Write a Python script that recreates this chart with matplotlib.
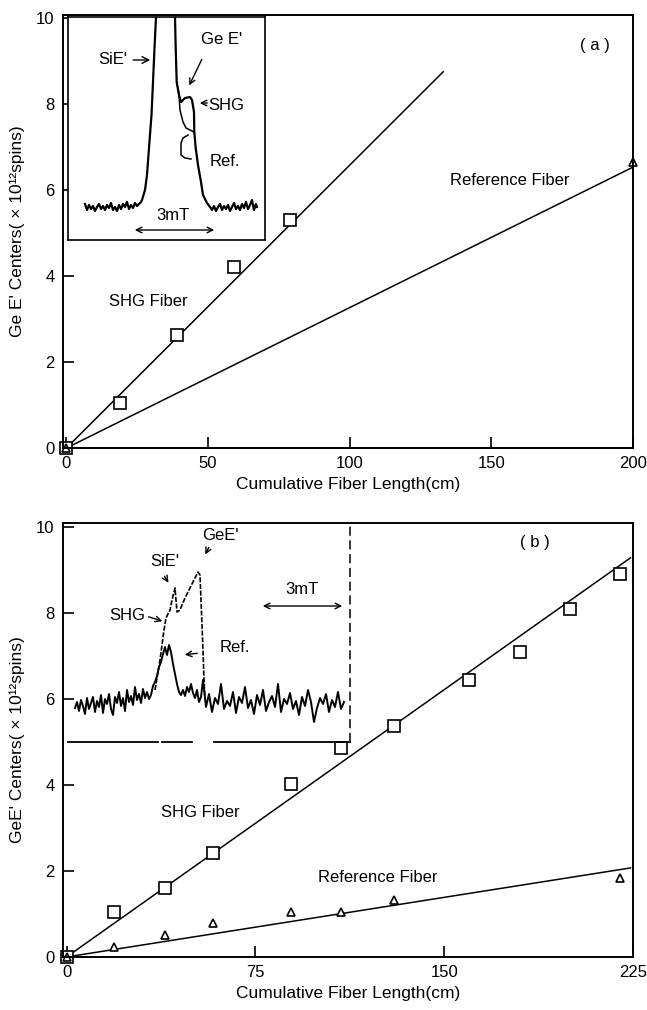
import matplotlib
matplotlib.use("Agg")
import matplotlib.pyplot as plt

plt.rcParams['font.family'] = ['Liberation Sans', 'DejaVu Sans']

# ---- panel (a) data ----
shg_a_x = [0, 19, 39, 59, 79]
shg_a_y = [0, 1.05, 2.63, 4.22, 5.3]
ref_a_x = [0, 200]
ref_a_y = [0, 6.65]
shg_a_fit_x = [0, 133]
shg_a_fit_y = [0, 8.76]
ref_a_fit_x = [0, 200]
ref_a_fit_y = [0, 6.54]

# ---- panel (b) data ----
shg_b_x = [0, 19, 39, 58, 89, 109, 130, 160, 180, 200, 220]
shg_b_y = [0, 1.05, 1.6, 2.42, 4.02, 4.86, 5.38, 6.44, 7.1, 8.1, 8.9]
ref_b_x = [0, 19, 39, 58, 89, 109, 130, 220]
ref_b_y = [0, 0.23, 0.51, 0.79, 1.05, 1.05, 1.33, 1.84]
shg_b_fit_x = [0, 224]
shg_b_fit_y = [0, 9.28]
ref_b_fit_x = [0, 224]
ref_b_fit_y = [0, 2.07]

# ---- inset (a) ESR trace, arbitrary units ----
ins_a_x = [17, 19, 21, 23, 25, 27, 29, 31, 33, 35, 37, 39, 41, 43, 45, 47, 49, 51, 53, 55,
           57, 59, 61, 63, 65, 67, 69, 71, 73, 74,
           77, 79, 81, 83.5, 85, 86.5, 88]
ins_a_y = [36, 30, 35, 31, 34, 29, 33, 36, 31, 34, 30, 35, 32, 37, 30, 33, 29, 35, 31, 36,
           33, 38, 31, 35, 32, 37, 34, 36, 38, 40,
           50, 65, 92, 125, 158, 192, 223]
ins_a_shg_x = [107, 107.7, 108.7, 111, 113, 117, 122, 124, 126, 126.3, 127.7, 130, 133, 135, 139, 142,
               144, 146, 148, 150, 152, 154, 156, 158, 160, 162, 164, 166, 168, 170, 172, 174,
               176, 178, 180, 182, 184, 186, 188, 189]
ins_a_shg_y = [223, 192, 158, 145, 138, 142, 143, 140, 128, 108, 92, 75, 58, 45, 37, 33,
               30, 34, 29, 33, 36, 30, 34, 31, 35, 29, 33, 37, 31, 34, 30, 36,
               32, 38, 31, 35, 40, 30, 36, 33]
ins_a_ref_x = [108.7, 111, 112, 115, 118, 122, 126]
ins_a_ref_y = [158, 145, 130, 118, 112, 110, 108]
ins_a_loop_x = [120, 115, 113, 113, 117, 123]
ins_a_loop_y = [105, 102, 97, 85, 82, 81]

# ---- inset (b) ESR traces, arbitrary units ----
ins_b_ref_x = [7, 9, 11, 13, 15, 17, 19, 21, 23, 25, 27, 29, 31, 33, 35, 37, 39, 41, 43, 45,
               47, 49, 51, 53, 55, 57, 59, 61, 63, 65, 67, 69, 71, 73, 75, 77, 79, 81, 83, 85, 87,
               89, 91, 93, 95, 97, 99, 101, 103, 105, 107, 109, 111, 113, 115, 117, 119, 121,
               123, 125, 127, 129, 131, 133,
               135, 138, 141, 144, 147, 150, 153, 156, 159, 162, 165, 168, 171, 174, 177, 180,
               183, 186, 189, 192, 195, 198, 201, 204, 207, 210, 213, 216, 219, 222, 225, 228,
               231, 234, 237, 240, 243, 246, 249, 252, 255, 258, 261, 264, 267, 270, 273, 276]
ins_b_ref_y = [34, 40, 31, 42, 36, 28, 44, 33, 39, 45, 30, 41, 35, 47, 29, 43, 38, 48, 33, 27,
               45, 39, 50, 36, 44, 31, 52, 40, 46, 37, 55, 42, 48, 39, 53, 44, 50, 43, 47, 56, 60,
               66, 75, 80, 88, 95, 87, 97, 90, 78, 68, 58, 50, 47, 52, 46, 55, 50,
               58, 49, 44, 52, 40, 45,
               62, 35, 48, 30, 44, 38, 58, 33, 41, 36, 50, 29, 45, 39, 55, 34,
               42, 28, 47, 37, 52, 31, 40, 46, 35, 58, 30, 43, 38, 49, 33, 41,
               27, 45, 36, 52, 40, 20, 34, 44, 38, 48, 30, 42, 35, 50, 33, 40]
ins_b_shg_x = [87, 92, 96, 98, 102, 104, 107, 109, 112, 117, 122, 127, 130, 132, 133, 134, 135, 136, 137]
ins_b_shg_y = [52, 82, 112, 124, 132, 142, 154, 130, 132, 144, 154, 164, 170, 167, 142, 117, 92, 62, 42]

fig = plt.figure(figsize=(6.47, 10.10), dpi=100)


def style_axes(ax, xlim, ylim, xticks):
    ax.set_xlim(xlim)
    ax.set_ylim(ylim)
    ax.set_xticks(xticks)
    ax.set_yticks([0, 2, 4, 6, 8, 10])
    ax.tick_params(direction='in', length=8, width=1.2, labelsize=12, pad=6)
    for s in ax.spines.values():
        s.set_linewidth(1.4)


# ================= panel (a) =================
ax1 = fig.add_axes([0.0974, 0.5564, 0.881, 0.4287])
ax1.plot(shg_a_fit_x, shg_a_fit_y, color='black', lw=1.1)
ax1.plot(ref_a_fit_x, ref_a_fit_y, color='black', lw=1.1)
ax1.plot(shg_a_x, shg_a_y, ls='none', marker='s', ms=8, mfc='white', mec='black', mew=1.2, clip_on=False)
ax1.plot(ref_a_x, ref_a_y, ls='none', marker='^', ms=6, mfc='white', mec='black', mew=1.2, clip_on=False)
style_axes(ax1, (-1.2, 200), (0, 10.08), [0, 50, 100, 150, 200])
ax1.set_xlabel('Cumulative Fiber Length(cm)', fontsize=12.5, labelpad=4)
ax1.set_ylabel("Ge E' Centers( \u00d7 10\u00b9\u00b2spins)", fontsize=12.5, labelpad=8)
ax1.text(29, 3.4, 'SHG Fiber', fontsize=12, ha='center', va='center')
ax1.text(156.6, 6.23, 'Reference Fiber', fontsize=12, ha='center', va='center')
ax1.text(186.5, 9.37, '( a )', fontsize=12, ha='center', va='center')

# inset (a)
in1 = fig.add_axes([68 / 647, 1 - 240 / 1010, 197 / 647, 223 / 1010])
in1.set_xlim(0, 197)
in1.set_ylim(0, 223)
in1.set_xticks([])
in1.set_yticks([])
for s in in1.spines.values():
    s.set_linewidth(1.2)
in1.plot(ins_a_x, ins_a_y, color='black', lw=1.6)
in1.plot(ins_a_shg_x, ins_a_shg_y, color='black', lw=1.6)
in1.plot(ins_a_ref_x, ins_a_ref_y, color='black', lw=1.1)
in1.plot(ins_a_loop_x, ins_a_loop_y, color='black', lw=1.1)
arrow = dict(arrowstyle='->', color='black', lw=1.0)
in1.annotate("SiE'", xy=(85, 180), xytext=(45, 180), fontsize=12, ha='center', va='center', arrowprops=arrow)
in1.text(154, 200, "Ge E'", fontsize=12, ha='center', va='center')
in1.annotate('', xy=(120, 152), xytext=(135, 183), arrowprops=arrow)
in1.text(158, 135, 'SHG', fontsize=12, ha='center', va='center')
in1.annotate('', xy=(129, 137), xytext=(142, 137), arrowprops=arrow)
in1.text(157, 78, 'Ref.', fontsize=12, ha='center', va='center')
in1.text(105, 25, '3mT', fontsize=12, ha='center', va='center')
in1.annotate('', xy=(149, 10), xytext=(64, 10), arrowprops=dict(arrowstyle='<->', color='black', lw=1.0))

# ================= panel (b) =================
ax2 = fig.add_axes([0.0974, 0.0525, 0.881, 0.4297])
ax2.plot(shg_b_fit_x, shg_b_fit_y, color='black', lw=1.1)
ax2.plot(ref_b_fit_x, ref_b_fit_y, color='black', lw=1.1)
ax2.plot(shg_b_x, shg_b_y, ls='none', marker='s', ms=8, mfc='white', mec='black', mew=1.2, clip_on=False)
ax2.plot(ref_b_x, ref_b_y, ls='none', marker='^', ms=6, mfc='white', mec='black', mew=1.2, clip_on=False)
style_axes(ax2, (-1.4, 225), (0, 10.09), [0, 75, 150, 225])
ax2.set_xlabel('Cumulative Fiber Length(cm)', fontsize=12.5, labelpad=4)
ax2.set_ylabel("GeE' Centers( \u00d7 10\u00b9\u00b2spins)", fontsize=12.5, labelpad=8)
ax2.text(53, 3.35, 'SHG Fiber', fontsize=12, ha='center', va='center')
ax2.text(123.7, 1.84, 'Reference Fiber', fontsize=12, ha='center', va='center')
ax2.text(186, 9.63, '( b )', fontsize=12, ha='center', va='center')

# inset (b)
in2 = fig.add_axes([68 / 647, 1 - 742 / 1010, 282 / 647, 219 / 1010])
in2.set_xlim(0, 282)
in2.set_ylim(0, 219)
in2.axis('off')
for x0, x1 in [(0, 90), (94, 124), (146, 282)]:
    in2.plot([x0, x1], [0, 0], color='black', lw=1.3, clip_on=False)
in2.plot([282, 282], [0, 219], color='black', lw=1.1, ls=(0, (6, 3)), clip_on=False)
in2.plot(ins_b_ref_x, ins_b_ref_y, color='black', lw=1.4)
in2.plot(ins_b_shg_x, ins_b_shg_y, color='black', lw=1.2, ls=(0, (3, 1)))
in2.text(152, 207, "GeE'", fontsize=12, ha='center', va='center')
in2.annotate('', xy=(136, 185), xytext=(142, 197), arrowprops=arrow)
in2.text(97, 180, "SiE'", fontsize=12, ha='center', va='center')
in2.annotate('', xy=(102, 157), xytext=(95, 168), arrowprops=arrow)
in2.text(59, 127, 'SHG', fontsize=12, ha='center', va='center')
in2.annotate('', xy=(97, 120), xytext=(78, 126), arrowprops=arrow)
in2.text(167, 95, 'Ref.', fontsize=12, ha='center', va='center')
in2.annotate('', xy=(114, 87), xytext=(132, 89), arrowprops=arrow)
in2.text(234, 152, '3mT', fontsize=12, ha='center', va='center')
in2.annotate('', xy=(277, 136), xytext=(192, 136), arrowprops=dict(arrowstyle='<->', color='black', lw=1.0))

fig.savefig('out.png', dpi=100)
